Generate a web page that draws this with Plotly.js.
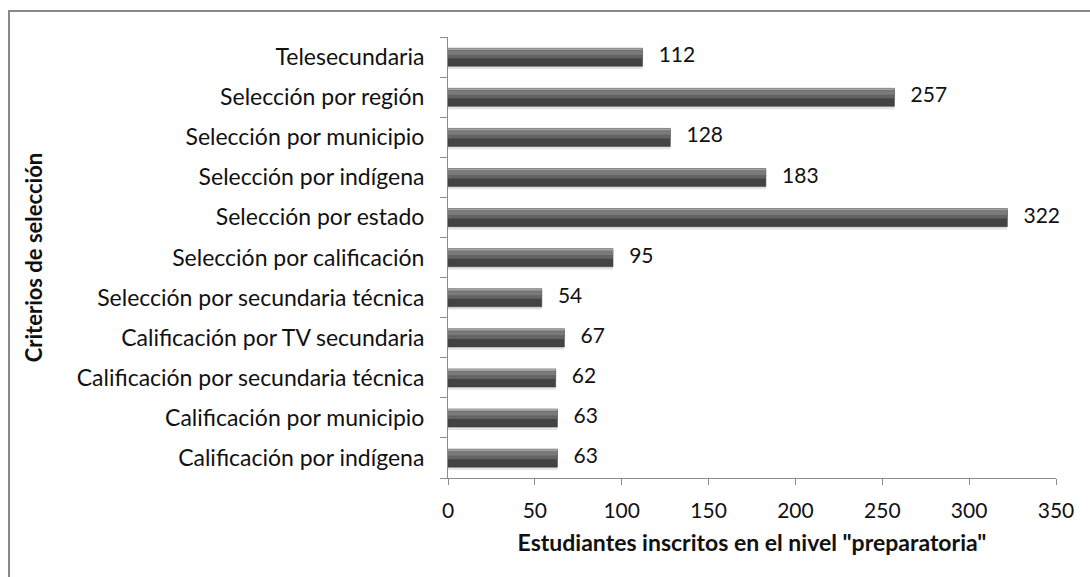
<!DOCTYPE html>
<html>
<head>
<meta charset="utf-8">
<script src="https://cdn.plot.ly/plotly-3.0.1.min.js"></script>
<style>html,body{margin:0;padding:0;background:#fff;}#chart{width:1090px;height:577px;}</style>
</head>
<body>
<div id="chart"></div>
<script>
const categories = [
  "Calificación por indígena",
  "Calificación por municipio",
  "Calificación por secundaria técnica",
  "Calificación por TV secundaria",
  "Selección por secundaria técnica",
  "Selección por calificación",
  "Selección por estado",
  "Selección por indígena",
  "Selección por municipio",
  "Selección por región",
  "Telesecundaria"
];
const values = [63, 63, 62, 67, 54, 95, 322, 183, 128, 257, 112];
const xTicks = [0, 50, 100, 150, 200, 250, 300, 350];
const xTitle = 'Estudiantes inscritos en el nivel "preparatoria"';
const yTitle = "Criterios de selección";

const FONT = "Lato, Noto Sans, sans-serif";
const FS_CAT = 23;
const FS_NUM = 21;

function layer(width, offset, color, extra) {
  return Object.assign({
    type: "bar", orientation: "h",
    x: values, y: categories,
    width: width, offset: offset,
    marker: {color: color, line: {width: 0}},
    hoverinfo: "skip", showlegend: false
  }, extra || {});
}

const traces = [
  layer(0.07, -0.30, "#e4e4e4"),
  layer(0.45, -0.23, "#454545", {marker: {color: "#434343", line: {color: "#363636", width: 0.5}}}),
  layer(0.20, -0.03, "#636363"),
  layer(0.10, 0.06, "#7a7a7a"),
  layer(0.05, 0.17, "#a3a3a3"),
  {
    type: "scatter", mode: "text",
    x: values, y: categories,
    text: values.map(String),
    texttemplate: "   %{text}",
    textposition: "middle right",
    textfont: {family: FONT, size: FS_NUM, color: "#111"},
    hoverinfo: "skip", showlegend: false,
    cliponaxis: false
  }
];

const layout = {
  width: 1090, height: 577,
  margin: {l: 448, r: 34, t: 37, b: 99},
  paper_bgcolor: "#ffffff", plot_bgcolor: "#ffffff",
  barmode: "overlay",
  font: {family: FONT, size: FS_NUM, color: "#111"},
  xaxis: {
    range: [0, 350],
    tickvals: xTicks,
    ticktext: xTicks.map(String),
    showgrid: false, zeroline: false,
    showline: true, linecolor: "#8c8c8c", linewidth: 1,
    ticks: "outside", ticklen: 6, tickcolor: "#8c8c8c",
    tickfont: {family: FONT, size: FS_NUM, color: "#111"},
    ticklabelstandoff: 8,
    title: {text: xTitle, font: {family: FONT, size: 23, color: "#111", weight: "bold"}, standoff: 13},
    fixedrange: true
  },
  yaxis: {
    type: "category",
    categoryorder: "array", categoryarray: categories,
    range: [-0.5, categories.length - 0.5],
    showgrid: false, zeroline: false,
    showline: true, linecolor: "#8c8c8c", linewidth: 1,
    ticks: "outside", ticklen: 7, tickcolor: "#8c8c8c",
    tickson: "boundaries",
    tickfont: {family: FONT, size: FS_CAT, color: "#111"},
    ticklabelstandoff: 18,
    title: {text: yTitle, font: {family: FONT, size: 22, color: "#111", weight: "bold"}, standoff: 28},
    fixedrange: true
  },
  shapes: [{
    type: "rect", xref: "paper", yref: "paper",
    x0: -0.722, x1: 1.08, y0: -0.3, y1: 1.059,
    line: {color: "#888888", width: 2}, fillcolor: "rgba(0,0,0,0)", layer: "below"
  }]
};

Plotly.newPlot("chart", traces, layout, {staticPlot: true, displayModeBar: false});
</script>
</body>
</html>
